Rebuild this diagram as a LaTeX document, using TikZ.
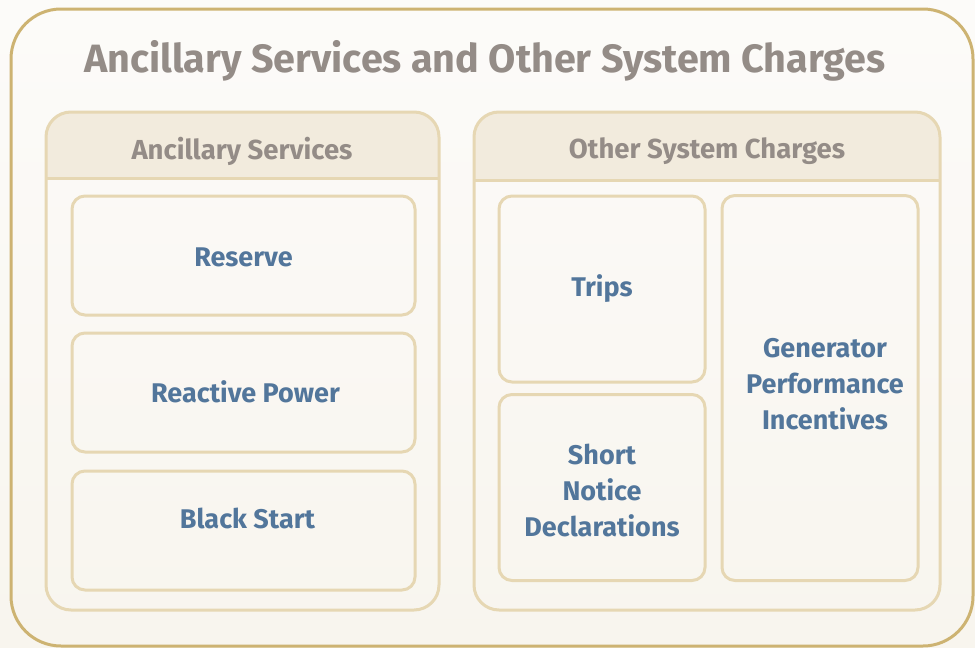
\documentclass[tikz,border=0pt]{standalone}
\usepackage{fontspec}
\setmainfont{Fira Sans}
\definecolor{bgtop}{HTML}{FCFBF9}
\definecolor{bgbot}{HTML}{F8F5EE}
\definecolor{goldline}{HTML}{CDB372}
\definecolor{paleline}{HTML}{E6D7B3}
\definecolor{headfill}{HTML}{F2EBDD}
\definecolor{titlegray}{HTML}{948C87}
\definecolor{itemblue}{HTML}{52769B}
\tikzset{
  outerframe/.style={draw=goldline, line width=3pt, rounded corners=50pt},
  panelframe/.style={draw=paleline, line width=3pt, rounded corners=25pt},
  itembox/.style={draw=paleline, line width=3pt, rounded corners=13pt},
  titletext/.style={text=titlegray, font=\bfseries\fontsize{39.5}{44}\selectfont},
  headtext/.style={text=titlegray, font=\bfseries\fontsize{27.5}{30}\selectfont},
  itemtext/.style={text=itemblue, font=\bfseries\fontsize{27}{36}\selectfont, align=center},
}
\begin{document}
\begin{tikzpicture}[x=1pt, y=-1pt]
  % canvas with soft vertical gradient
  \shade[top color=bgtop, bottom color=bgbot] (0,0) rectangle (975,648);
  \useasboundingbox (0,0) rectangle (975,648);

  % outer frame and title
  \draw[outerframe] (11,9) rectangle (973,646);
  \node[titletext] (title) at (485,61) {Ancillary Services and Other System Charges};

  % left panel: Ancillary Services
  \begin{scope}
    \clip[rounded corners=25pt] (46,112) rectangle (439,610);
    \fill[headfill] (46,112) rectangle (439,178);
  \end{scope}
  \draw[panelframe] (46,112) rectangle (439,610);
  \draw[draw=paleline, line width=3pt] (46,178) -- (439,178);
  \node[headtext] (lefthead) at (242,151) {Ancillary Services};

  \node[itembox, minimum width=343pt, minimum height=119pt] (reserve) at (243.5,255.5) {};
  \node[itemtext] at ([yshift=-2pt]reserve) {Reserve};
  \node[itembox, minimum width=343pt, minimum height=119pt] (reactive) at (243.5,392.5) {};
  \node[itemtext] at ([xshift=2pt, yshift=1pt]reactive) {Reactive Power};
  \node[itembox, minimum width=343pt, minimum height=119pt] (blackstart) at (243.5,530.5) {};
  \node[itemtext] at ([xshift=4pt, yshift=12pt]blackstart) {Black Start};

  % right panel: Other System Charges
  \begin{scope}
    \clip[rounded corners=25pt] (474,112) rectangle (940,610);
    \fill[headfill] (474,112) rectangle (940,180);
  \end{scope}
  \draw[panelframe] (474,112) rectangle (940,610);
  \draw[draw=paleline, line width=3pt] (474,180) -- (940,180);
  \node[headtext] (righthead) at (707,151) {Other System Charges};

  \node[itembox, minimum width=206pt, minimum height=186pt] (trips) at (602,289) {};
  \node[itemtext] at (trips) {Trips};
  \node[itembox, minimum width=206pt, minimum height=186pt] (notice) at (602,487.5) {};
  \node[itemtext] at ([yshift=-3pt]notice) {Short\\Notice\\Declarations};
  \node[itembox, minimum width=196pt, minimum height=385pt] (generator) at (820,388) {};
  \node[itemtext] at ([xshift=5pt, yshift=4pt]generator) {Generator\\Performance\\Incentives};
\end{tikzpicture}
\end{document}
